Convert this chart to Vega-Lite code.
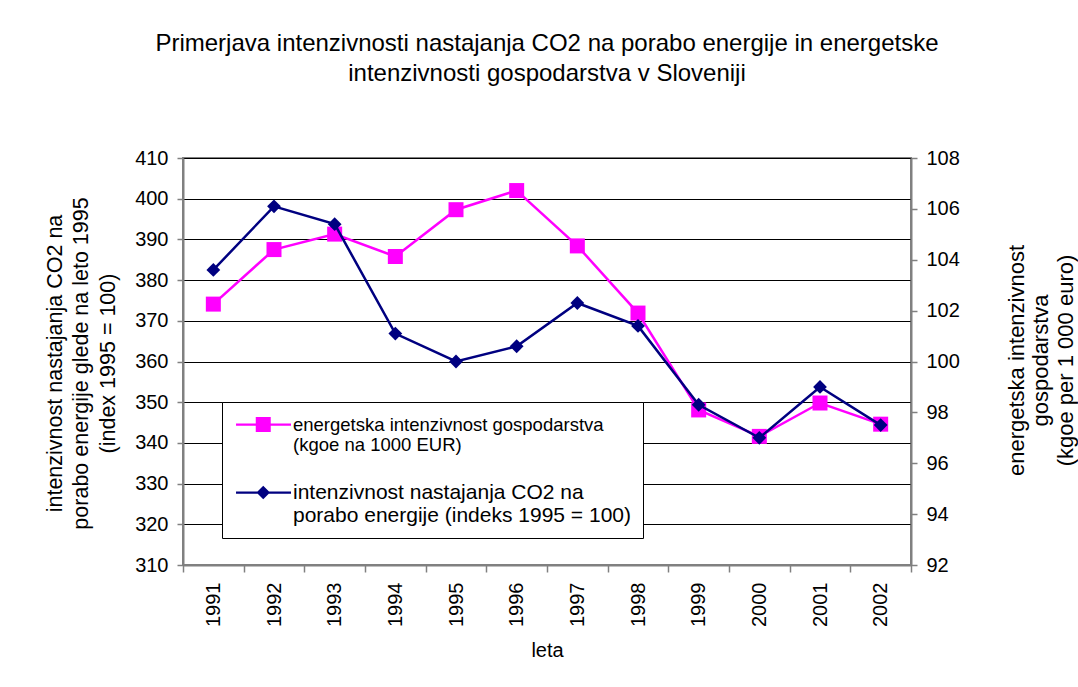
{
  "$schema": "https://vega.github.io/schema/vega-lite/v6.json",
  "width": 728,
  "height": 407,
  "autosize": {"type": "none"},
  "padding": {"left": 183, "top": 158, "right": 167, "bottom": 122},
  "background": "white",
  "config": {
    "font": "Liberation Sans",
    "view": {"stroke": "#808080", "strokeWidth": 2},
    "axis": {"labelColor": "black", "titleColor": "black", "titleFontWeight": "normal", "domainColor": "#808080", "domainWidth": 2, "tickColor": "#808080", "tickWidth": 1.5}
  },
  "title": {
    "text": ["Primerjava intenzivnosti nastajanja CO2 na porabo energije in energetske", "intenzivnosti gospodarstva v Sloveniji"],
    "fontSize": 24,
    "fontWeight": "normal",
    "color": "black",
    "anchor": "middle",
    "offset": 62,
    "lineHeight": 30
  },
  "data": {
    "values": [
      {"leto": "1991", "energ": 374.1, "co2": 103.6},
      {"leto": "1992", "energ": 387.5, "co2": 106.1},
      {"leto": "1993", "energ": 391.3, "co2": 105.4},
      {"leto": "1994", "energ": 385.8, "co2": 101.1},
      {"leto": "1995", "energ": 397.3, "co2": 100.0},
      {"leto": "1996", "energ": 402.0, "co2": 100.6},
      {"leto": "1997", "energ": 388.4, "co2": 102.3},
      {"leto": "1998", "energ": 371.9, "co2": 101.4},
      {"leto": "1999", "energ": 348.1, "co2": 98.3},
      {"leto": "2000", "energ": 341.6, "co2": 97.0},
      {"leto": "2001", "energ": 349.8, "co2": 99.0},
      {"leto": "2002", "energ": 344.6, "co2": 97.5}
    ]
  },
  "encoding": {
    "x": {
      "field": "leto",
      "type": "ordinal",
      "scale": {"type": "band", "paddingInner": 0, "paddingOuter": 0},
      "bandPosition": 0.5,
      "axis": {
        "title": "leta",
        "titleFontSize": 20,
        "titlePadding": 14,
        "labelAngle": 270,
        "labelFontSize": 20,
        "labelPadding": 10,
        "tickBand": "extent",
        "tickSize": 7,
        "grid": false
      }
    }
  },
  "layer": [
    {
      "encoding": {
        "y": {
          "field": "energ",
          "type": "quantitative",
          "scale": {"domain": [310, 410], "nice": false, "zero": false},
          "axis": {
            "orient": "left",
            "values": [310, 320, 330, 340, 350, 360, 370, 380, 390, 400, 410],
            "grid": true,
            "gridColor": "black",
            "gridWidth": 1,
            "tickSize": 6,
            "labelFontSize": 20,
            "labelPadding": 9,
            "title": ["intenzivnost nastajanja CO2 na", "porabo energije glede na leto 1995", "(index 1995 = 100)"],
            "titleFontSize": 21.5,
            "titleAngle": 270,
            "titleAlign": "center",
            "titleBaseline": "middle",
            "titleLineHeight": 26.5,
            "titleX": -128,
            "titleY": 205
          }
        }
      },
      "layer": [
        {"mark": {"type": "line", "color": "#FF00FF", "strokeWidth": 2.5}},
        {
          "mark": {"type": "point", "shape": "square", "filled": true, "opacity": 1, "size": 225},
          "encoding": {
            "color": {
              "datum": "A",
              "type": "nominal",
              "scale": {"domain": ["A", "B"], "range": ["#FF00FF", "#000080"]},
              "legend": {
                "orient": "none",
                "legendX": 39,
                "legendY": 244,
                "title": null,
                "fillColor": "white",
                "strokeColor": "black",
                "padding": 12,
                "labelExpr": "datum.value == 'A' ? ['energetska intenzivnost gospodarstva', '(kgoe na 1000 EUR)'] : ['intenzivnost nastajanja CO2 na', 'porabo energije (indeks 1995 = 100)']",
                "labelFontSize": {"expr": "datum.value == 'A' ? 18.5 : 21"},
                "labelColor": "black",
                "labelLimit": 600,
                "labelOffset": 38,
                "labelBaseline": "middle",
                "symbolType": {"expr": "datum.value == 'A' ? 'M-1.13,-0.15L6.2,-0.15L6.2,0.15L-1.13,0.15Z M1.5,-1L3.5,-1L3.5,1L1.5,1Z' : 'M-1.13,-0.15L6.2,-0.15L6.2,0.15L-1.13,0.15Z M2.5,-0.9L3.4,0L2.5,0.9L1.6,0Z'"},
                "symbolSize": 225,
                "symbolStrokeWidth": 0,
                "symbolOpacity": 1,
                "rowPadding": 26
              }
            }
          }
        }
      ]
    },
    {
      "encoding": {
        "y": {
          "field": "co2",
          "type": "quantitative",
          "scale": {"domain": [92, 108], "nice": false, "zero": false},
          "axis": {
            "orient": "right",
            "values": [92, 94, 96, 98, 100, 102, 104, 106, 108],
            "grid": false,
            "tickSize": 6,
            "labelFontSize": 20,
            "labelPadding": 9,
            "title": ["energetska intenzivnost", "gospodarstva", "(kgoe per 1 000 euro)"],
            "titleFontSize": 22,
            "titleAngle": 270,
            "titleAlign": "center",
            "titleBaseline": "middle",
            "titleLineHeight": 24.5,
            "titleX": 105,
            "titleY": 202
          }
        }
      },
      "layer": [
        {"mark": {"type": "line", "color": "#000080", "strokeWidth": 2.5}},
        {
          "mark": {"type": "point", "shape": "diamond", "filled": true, "opacity": 1, "size": 190},
          "encoding": {
            "color": {"datum": "B", "type": "nominal"}
          }
        }
      ]
    }
  ],
  "resolve": {"scale": {"y": "independent"}}
}
